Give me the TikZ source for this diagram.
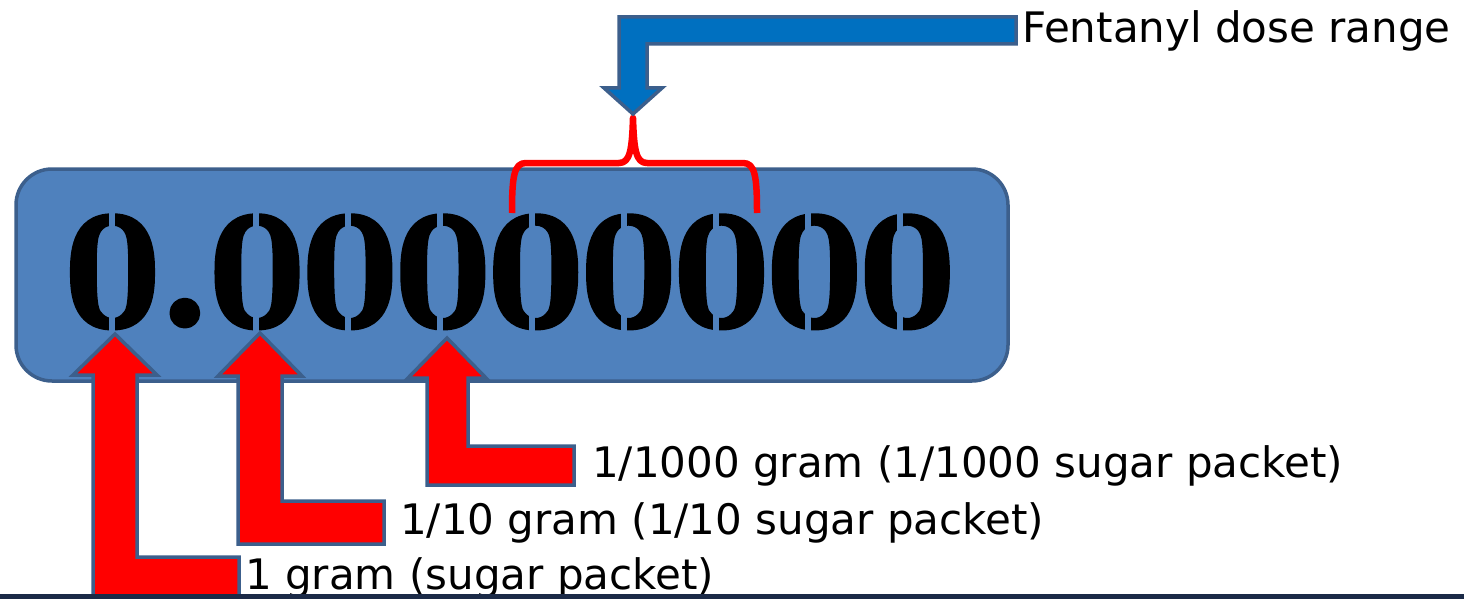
\documentclass[tikz,border=0pt]{standalone}
\usepackage{fontspec}
\newfontfamily\labelfont{DejaVu Sans}
\usetikzlibrary{positioning}
\definecolor{boxfill}{HTML}{4F81BD}
\definecolor{boxline}{HTML}{3C5F8C}
\definecolor{dosefill}{HTML}{0070C0}
\definecolor{footbar}{HTML}{1B2A47}
\newcommand\heavytext[1]{\special{pdf:literal direct 0 G 7 w 1 j 2 Tr}#1\special{pdf:literal direct 0 Tr}}
\tikzset{
  digitbox/.style={fill=boxfill, draw=boxline, line width=3.5pt, rounded corners=36pt},
  uparrow/.style={fill=red, draw=boxline, line width=3.5pt},
  downarrow/.style={fill=dosefill, draw=boxline, line width=3.5pt},
  brace/.style={draw=red, line width=6.5pt, line join=round},
  amount/.style={font=\labelfont\fontsize{42}{42}\selectfont, inner sep=0pt, anchor=west}
}

\begin{document}
\begin{tikzpicture}[x=1pt,y=-1pt]
    \useasboundingbox (0,0) rectangle (1464,599);

    % the number
    \draw[digitbox] (16,169) rectangle (1008,381);
    \node[anchor=base west, inner sep=0pt, font=\fontsize{165}{165}\selectfont\bfseries] (number) at (66,325)
        {\heavytext{0.00000000}};
    \foreach \cx in {112,256,348,440,532,624,716,808,900}
        \fill[boxfill] ({\cx-3},210) rectangle ({\cx+3},336);

    % dose range
    \draw[brace] (512,213) .. controls (512,176) and (514,163) .. (526,163) -- (619,163)
        .. controls (630,163) and (632,150) .. (633,118)
        .. controls (634,150) and (636,163) .. (647,163) -- (743,163)
        .. controls (755,163) and (757,176) .. (757,213);
    \draw[downarrow] (1016,17) -- (619,17) -- (619,88) -- (604,88) -- (633,114) -- (662,88)
        -- (647,88) -- (647,44) -- (1016,44) -- cycle;
    \coordinate (range) at (1016,30.5);
    \node[amount, right=6pt of range] (rangetext) {Fentanyl dose range};

    % places
    \draw[uparrow] (115,334) -- (157,375) -- (137,375) -- (137,557) -- (239,557) -- (239,602)
        -- (93,602) -- (93,375) -- (73,375) -- cycle;
    \coordinate (gram) at (239,578);
    \draw[uparrow] (260,333) -- (302,376) -- (282,376) -- (282,501) -- (384,501) -- (384,544)
        -- (238,544) -- (238,376) -- (218,376) -- cycle;
    \coordinate (tenth) at (384,522.5);
    \draw[uparrow] (447,338) -- (486,378) -- (468,378) -- (468,446) -- (574,446) -- (574,485)
        -- (427,485) -- (427,378) -- (408,378) -- cycle;
    \coordinate (thousandth) at (574,465.5);

    \node[amount, right=6pt of gram] (gramtext) {1 gram (sugar packet)};
    \node[amount, right=16pt of tenth] (tenthtext) {1/10 gram (1/10 sugar packet)};
    \node[amount, right=18pt of thousandth] (thousandthtext) {1/1000 gram (1/1000 sugar packet)};

    \fill[footbar] (0,594) rectangle (1464,599);
\end{tikzpicture}
\end{document}
